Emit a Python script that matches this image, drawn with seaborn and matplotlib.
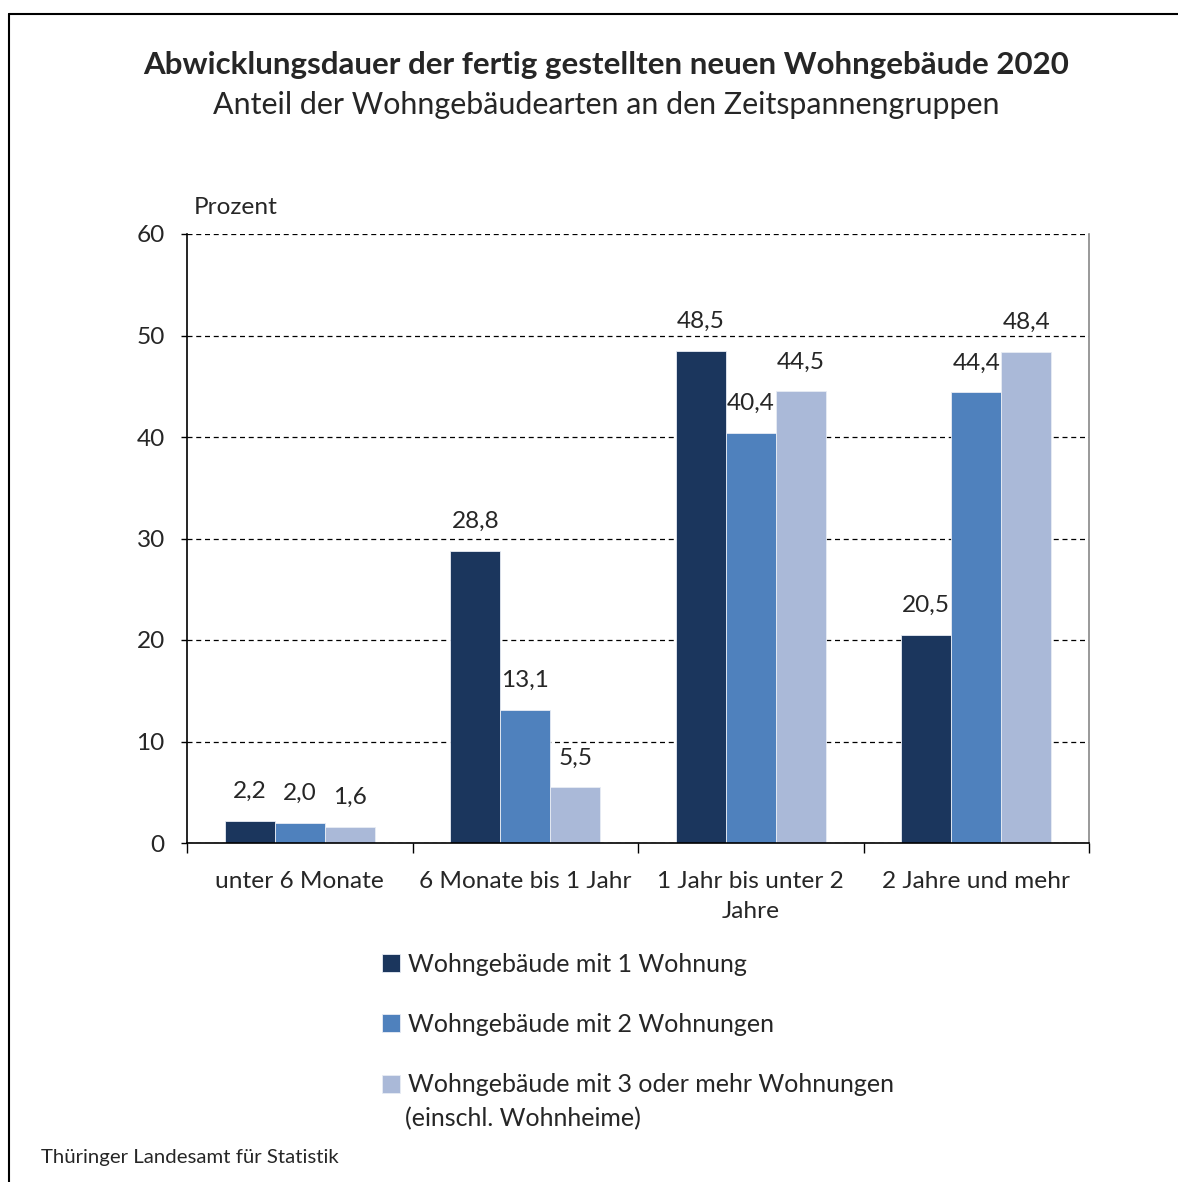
import pandas as pd
import matplotlib.pyplot as plt
import seaborn as sns
from matplotlib.lines import Line2D

# Daten aus dem Diagramm
kategorien = ['unter 6 Monate', '6 Monate bis 1 Jahr', '1 Jahr bis unter 2\nJahre', '2 Jahre und mehr']
gebaeudearten = ['Wohngebäude mit 1 Wohnung',
                 'Wohngebäude mit 2 Wohnungen',
                 'Wohngebäude mit 3 oder mehr Wohnungen']
zusatz = '(einschl. Wohnheime)'
werte_1 = [2.2, 28.8, 48.5, 20.5]
werte_2 = [2.0, 13.1, 40.4, 44.4]
werte_3 = [1.6, 5.5, 44.5, 48.4]
farben = ['#1B365D', '#4F81BD', '#AAB9D8']

df = pd.DataFrame({
    'Kategorie': kategorien * 3,
    'Art': [gebaeudearten[0]] * 4 + [gebaeudearten[1]] * 4 + [gebaeudearten[2]] * 4,
    'Prozent': werte_1 + werte_2 + werte_3,
})

sns.set_style('white')
plt.rcParams['font.family'] = ['Lato', 'DejaVu Sans']

fig = plt.figure(figsize=(11.78, 11.82), dpi=100)
ax = fig.add_axes([187 / 1178, 1 - 843 / 1182, 902 / 1178, 609 / 1182])

sns.barplot(data=df, x='Kategorie', y='Prozent', hue='Art', palette=farben,
            width=0.665, saturation=1, edgecolor='#e8ecf4', linewidth=0.6, ax=ax)

# Werte über den Balken
for cont in ax.containers:
    ax.bar_label(cont, labels=[f'{v:.1f}'.replace('.', ',') for v in cont.datavalues],
                 padding=13.5, fontsize=17.6)

ax.set_ylim(0, 60)
ax.set_xlim(-0.5, 3.5)
ax.set_yticks(range(0, 61, 10))
ax.set_xlabel('')
ax.set_ylabel('')
ax.set_axisbelow(True)
ax.yaxis.grid(True, color='black', linestyle=(0, (4, 3)), linewidth=0.9)
ax.xaxis.grid(False)

for s in ['left', 'bottom']:
    ax.spines[s].set_color('black')
    ax.spines[s].set_linewidth(1.2)
ax.spines['top'].set_visible(False)
ax.spines['right'].set_color('#888888')
ax.spines['right'].set_linewidth(1.2)

ax.tick_params(axis='y', left=True, length=4, width=1, labelsize=17.6, pad=12, color='black')
ax.tick_params(axis='x', which='major', length=0, labelsize=17.6, pad=20)
ax.set_xticks([-0.5, 0.5, 1.5, 2.5, 3.5], minor=True)
ax.tick_params(axis='x', which='minor', bottom=True, length=7, width=1, color='black')
for t in ax.get_xticklabels():
    t.set_linespacing(1.55)

# Legende
handles, labels = ax.get_legend_handles_labels()
ax.legend_.remove()
fig.legend(handles, labels, loc='upper left', bbox_to_anchor=(359 / 1178, 1 - 930 / 1182),
           frameon=False, fontsize=18, handlelength=0.72, handleheight=0.72,
           handletextpad=0.36, labelspacing=1.5)
fig.text(405 / 1178, 1 - 1119 / 1182, zusatz, ha='left', va='center', fontsize=18)

# Titel und Texte
fig.text(606 / 1178, 1 - 65 / 1182, 'Abwicklungsdauer der fertig gestellten neuen Wohngebäude 2020',
         ha='center', va='center', fontsize=22.5, fontweight='bold')
fig.text(606 / 1178, 1 - 105 / 1182, 'Anteil der Wohngebäudearten an den Zeitspannengruppen',
         ha='center', va='center', fontsize=21.9)
fig.text(194 / 1178, 1 - 207 / 1182, 'Prozent', ha='left', va='center', fontsize=17.6)
fig.text(41 / 1178, 1 - 1157 / 1182, 'Thüringer Landesamt für Statistik',
         ha='left', va='center', fontsize=14.7)

# Rahmen oben und links
y_top = 1 - 14 / 1182
x_left = 9 / 1178
fig.add_artist(Line2D([x_left, 1.0], [y_top, y_top], transform=fig.transFigure, color='black', linewidth=1.5))
fig.add_artist(Line2D([x_left, x_left], [0, y_top], transform=fig.transFigure, color='black', linewidth=1.5))

fig.savefig('out.png', dpi=100)
